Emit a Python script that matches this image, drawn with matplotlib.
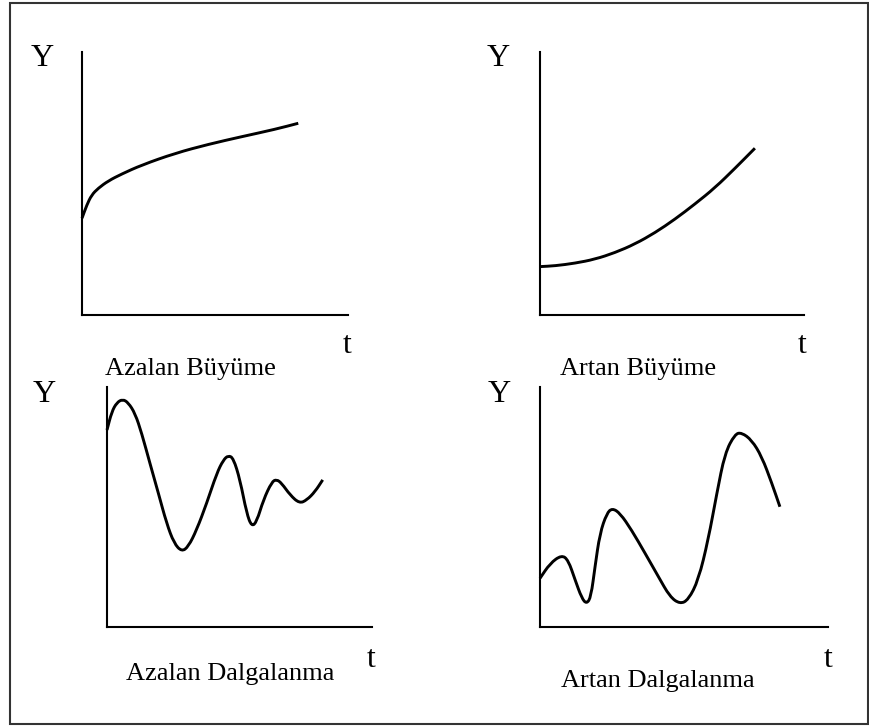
import matplotlib.pyplot as plt
from matplotlib.patches import Rectangle, PathPatch
from matplotlib.path import Path

plt.rcParams['font.family'] = ['Liberation Serif', 'DejaVu Serif']

W, H = 870, 727

# curve sketches, t and Y in panel units (0..10)
t_azalan_buyume = [0.0, 0.18, 0.36, 0.61, 0.99, 1.49, 2.24, 3.50, 4.75, 6.00, 7.26, 8.13]
y_azalan_buyume = [3.68, 4.18, 4.56, 4.82, 5.10, 5.36, 5.70, 6.15, 6.49, 6.78, 7.06, 7.29]

t_artan_buyume = [0.0, 0.57, 1.33, 2.08, 2.84, 3.60, 4.36, 5.11, 5.87, 6.63, 7.39, 8.14]
y_artan_buyume = [1.84, 1.87, 1.97, 2.12, 2.37, 2.70, 3.13, 3.64, 4.22, 4.84, 5.58, 6.34]

t_azalan_dalga = [0.0, 0.18, 0.37, 0.59, 0.80, 1.06, 1.31, 1.62, 1.94, 2.25, 2.53,
                  2.82, 3.07, 3.38, 3.76, 4.14, 4.39, 4.58, 4.77, 5.02, 5.27, 5.46,
                  5.65, 5.90, 6.22, 6.40, 6.59, 6.91, 7.26, 7.54, 7.85, 8.14]
y_azalan_dalga = [8.21, 8.97, 9.35, 9.49, 9.35, 8.90, 8.07, 6.82, 5.57, 4.32, 3.49,
                  3.14, 3.35, 4.04, 5.15, 6.40, 6.96, 7.15, 7.03, 6.13, 4.74, 4.18,
                  4.39, 5.29, 6.05, 6.15, 5.99, 5.50, 5.15, 5.29, 5.64, 6.13]

t_artan_dalga = [0.0, 0.35, 0.75, 0.98, 1.22, 1.45, 1.62, 1.77, 1.91, 2.08, 2.32,
                 2.51, 2.78, 3.18, 3.65, 4.11, 4.51, 4.86, 5.15, 5.50, 5.84, 6.14,
                 6.42, 6.77, 7.00, 7.35, 7.70, 8.05, 8.33]
y_artan_dalga = [2.03, 2.65, 3.00, 2.79, 1.96, 1.20, 0.96, 1.26, 2.51, 3.90, 4.74,
                 4.95, 4.74, 4.04, 3.07, 2.10, 1.26, 0.96, 1.13, 1.96, 3.63, 5.57,
                 7.24, 8.04, 8.10, 7.79, 7.10, 5.99, 5.01]

titles = ['Azalan Büyüme', 'Artan Büyüme', 'Azalan Dalgalanma', 'Artan Dalgalanma']
curves = [(t_azalan_buyume, y_azalan_buyume), (t_artan_buyume, y_artan_buyume),
          (t_azalan_dalga, y_azalan_dalga), (t_artan_dalga, y_artan_dalga)]

# pixel boxes of each panel: left, right, top, bottom
boxes = [(82, 348, 52, 315), (540, 804, 52, 315),
         (107, 372, 387, 627), (540, 828, 387, 627)]
# label anchors: Y (x, baseline), t (x, baseline), title (x, baseline)
labels = [((42, 66), (347, 353), (190, 375)),
          ((498, 66), (802, 353), (638, 375)),
          ((44, 402), (371, 667), (230, 680)),
          ((499, 402), (828, 667), (658, 687))]


def fx(x):
    return x / W


def fy(y):
    return 1 - y / H


def smooth_path(t, y):
    # quadratic bezier through segment midpoints, points act as controls
    pts = list(zip(t, y))
    verts = [pts[0]]
    codes = [Path.MOVETO]
    mid = lambda a, b: ((a[0] + b[0]) / 2, (a[1] + b[1]) / 2)
    verts.append(mid(pts[0], pts[1]))
    codes.append(Path.LINETO)
    for i in range(1, len(pts) - 1):
        verts += [pts[i], mid(pts[i], pts[i + 1])]
        codes += [Path.CURVE3, Path.CURVE3]
    verts.append(pts[-1])
    codes.append(Path.LINETO)
    return Path(verts, codes)


fig = plt.figure(figsize=(W / 100, H / 100), dpi=100)

for (t, y), (x0, x1, y0, y1), title, (ylab, tlab, tit) in zip(curves, boxes, titles, labels):
    ax = fig.add_axes([fx(x0), fy(y1), (x1 - x0) / W, (y1 - y0) / H])
    ax.add_patch(PathPatch(smooth_path(t, y), fill=False, edgecolor='black',
                           lw=2.1, capstyle='butt', joinstyle='round', clip_on=False))
    ax.set_xlim(0, 10)
    ax.set_ylim(0, 10)
    for side in ['top', 'right']:
        ax.spines[side].set_visible(False)
    for side in ['left', 'bottom']:
        ax.spines[side].set_linewidth(1.5)
    ax.set_xticks([])
    ax.set_yticks([])
    ax.patch.set_alpha(0)

    fig.text(fx(ylab[0]), fy(ylab[1]), 'Y', fontsize=23, ha='center', va='baseline')
    fig.text(fx(tlab[0]), fy(tlab[1]), 't', fontsize=23, ha='center', va='baseline')
    fig.text(fx(tit[0]), fy(tit[1]), title, fontsize=19, ha='center', va='baseline')

# outer frame
fig.patches.append(Rectangle((fx(10), fy(724)), fx(868) - fx(10), fy(3) - fy(724),
                             transform=fig.transFigure, fill=False,
                             edgecolor='#333333', lw=1.5))

fig.savefig('out.png', dpi=100)
